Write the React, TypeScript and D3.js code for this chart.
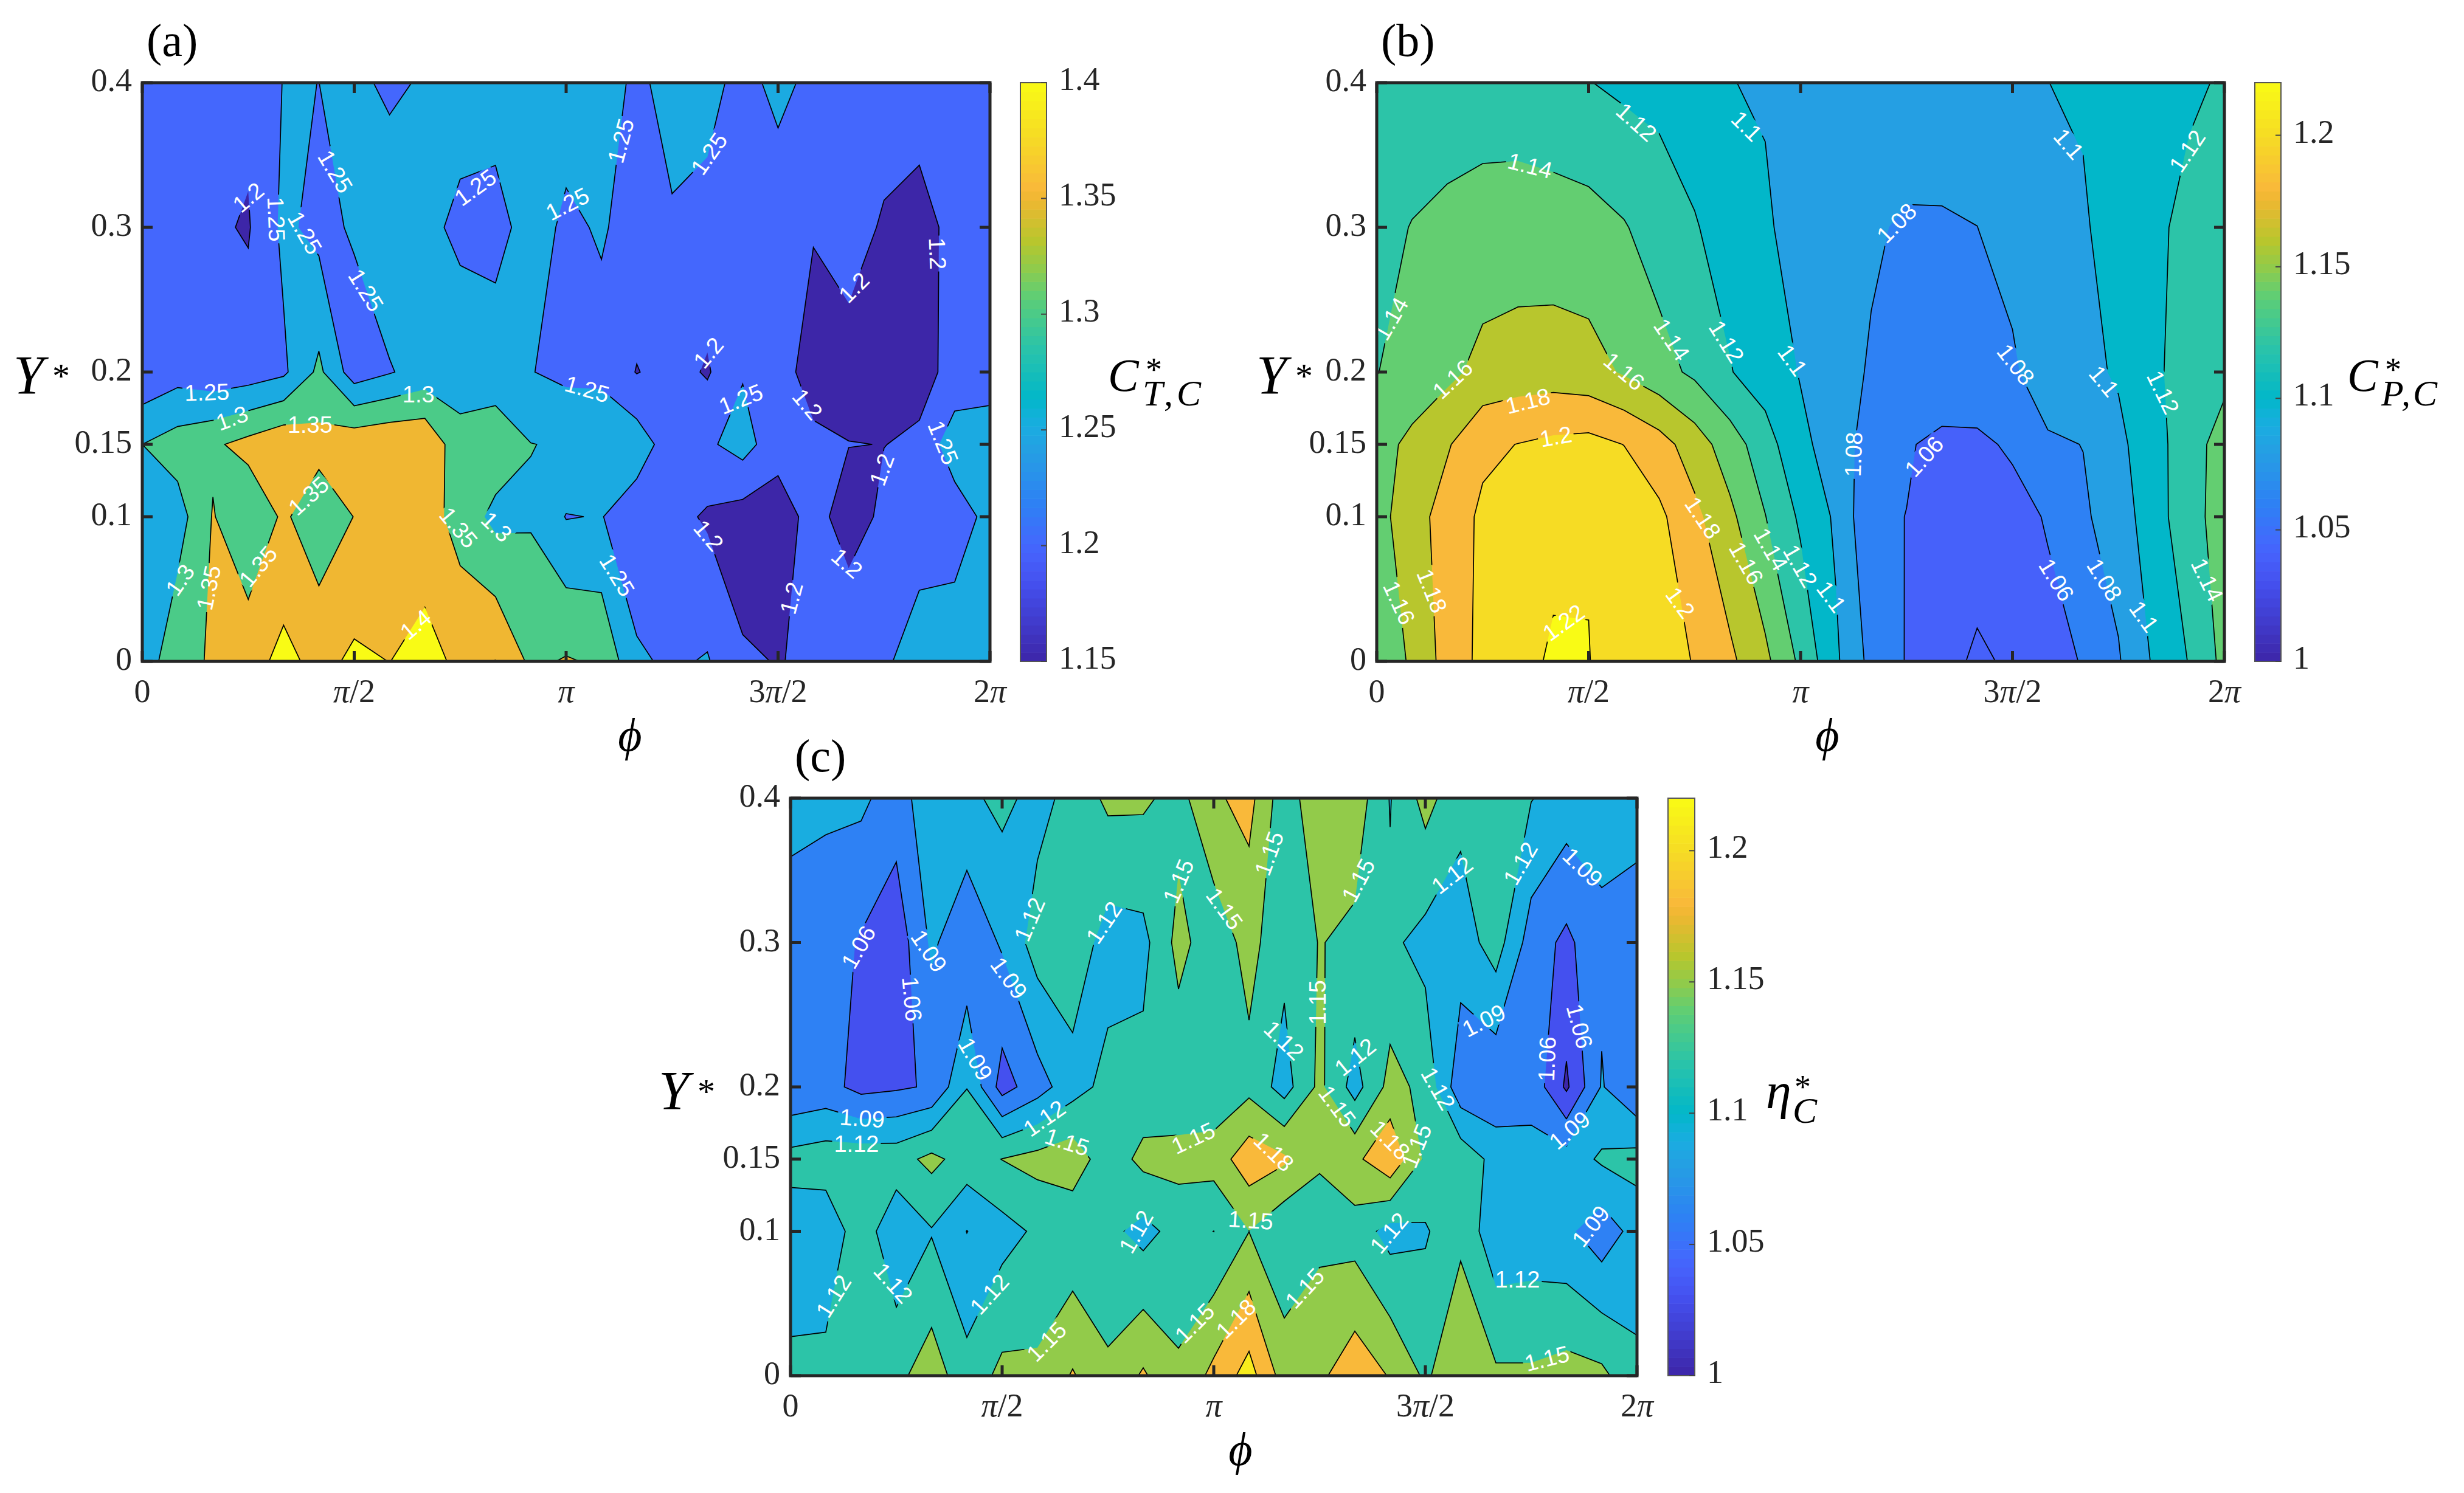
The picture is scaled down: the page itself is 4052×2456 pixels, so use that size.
import * as d3 from 'd3';

// grid: 25 phi columns (0..2pi), rows at these Y values, bottom row first
const rowY = [0, 0.1, 0.15, 0.2, 0.3, 0.4];
const colCount = 25;

const ctValues = [
  [1.27,1.335,1.355,1.38,1.414,1.385,1.409,1.3995,1.415,1.391,1.401,1.34,1.354,1.3434,1.2566,1.2426,1.254,1.205,1.1985,1.206,1.24,1.24,1.28,1.29,1.275],
  [1.26,1.278,1.353,1.31,1.358,1.318,1.351,1.37,1.375,1.329,1.287,1.295,1.248,1.252,1.219,1.218,1.193,1.178,1.175,1.218,1.178,1.2094,1.219,1.217,1.2694],
  [1.3,1.323,1.342,1.366,1.39,1.367,1.387,1.395,1.395,1.316,1.33,1.301,1.295,1.295,1.278,1.222,1.2418,1.27,1.219,1.205,1.201,1.1995,1.205,1.285,1.271],
  [1.209,1.23,1.216,1.224,1.241,1.311,1.224,1.2465,1.27,1.278,1.274,1.2516,1.238,1.236,1.198,1.219,1.195,1.246,1.21,1.19,1.18,1.185,1.19,1.209,1.232],
  [1.215,1.212,1.207,1.196,1.261,1.235,1.256,1.285,1.262,1.24,1.235,1.268,1.2425,1.254,1.234,1.24,1.232,1.225,1.215,1.2016,1.222,1.194,1.18,1.216,1.222],
  [1.22,1.22,1.22,1.212,1.2517,1.2499,1.262,1.24,1.256,1.27,1.27,1.26,1.27,1.295,1.231,1.283,1.269,1.231,1.266,1.235,1.226,1.226,1.2265,1.225,1.23],
];

const cpValues = [
  [1.156,1.1608,1.189,1.2047,1.213,1.2229,1.2204,1.2125,1.21,1.1988,1.184,1.1646,1.136,1.1032,1.0742,1.059,1.0465,1.037,1.0428,1.054,1.061,1.0783,1.1024,1.1209,1.1457],
  [1.153,1.171,1.189,1.2035,1.212,1.2138,1.219,1.217,1.204,1.185,1.1645,1.1405,1.1167,1.097,1.063,1.0598,1.052,1.05,1.0536,1.0615,1.0775,1.0884,1.113,1.13,1.152],
  [1.152,1.165,1.178,1.196,1.2004,1.2043,1.2063,1.1997,1.188,1.17,1.1496,1.1287,1.1038,1.0926,1.069,1.0615,1.056,1.0565,1.0625,1.0775,1.0803,1.0955,1.1122,1.1317,1.1483],
  [1.1395,1.147,1.155,1.166,1.1694,1.1704,1.1672,1.158,1.147,1.1362,1.121,1.11,1.099,1.0845,1.0789,1.0745,1.072,1.072,1.0775,1.09,1.0955,1.102,1.117,1.1273,1.135],
  [1.134,1.1407,1.1443,1.1479,1.1485,1.148,1.1476,1.1414,1.131,1.1213,1.112,1.1029,1.0913,1.089,1.0815,1.0785,1.0786,1.0799,1.086,1.092,1.098,1.108,1.116,1.1253,1.13],
  [1.125,1.128,1.13,1.13,1.13,1.127,1.1206,1.116,1.114,1.11,1.1005,1.098,1.095,1.092,1.09,1.088,1.088,1.09,1.094,1.0999,1.102,1.105,1.11,1.117,1.122],
];

const etaValues = [
  [1.1263,1.1297,1.135,1.142,1.166,1.131,1.158,1.156,1.1826,1.1554,1.184,1.1544,1.1885,1.2222,1.1666,1.174,1.199,1.178,1.145,1.175,1.155,1.1547,1.1615,1.157,1.127],
  [1.103,1.0975,1.1384,1.0956,1.118,1.0895,1.1087,1.125,1.127,1.1284,1.11,1.1313,1.1198,1.1497,1.125,1.142,1.1373,1.109,1.1166,1.1435,1.0985,1.102,1.0965,1.072,1.102],
  [1.131,1.137,1.139,1.138,1.158,1.1365,1.1505,1.16,1.168,1.132,1.1585,1.16,1.163,1.198,1.185,1.152,1.1726,1.205,1.144,1.14,1.11,1.098,1.104,1.1245,1.131],
  [1.063,1.07,1.051,1.056,1.063,1.1195,1.0476,1.077,1.108,1.129,1.13,1.13,1.13,1.1414,1.1075,1.157,1.108,1.16,1.142,1.07,1.065,1.081,1.025,1.0923,1.0605],
  [1.0827,1.075,1.057,1.041,1.0955,1.067,1.0937,1.134,1.14,1.107,1.111,1.1595,1.1324,1.16,1.129,1.1513,1.143,1.126,1.11,1.1043,1.134,1.076,1.053,1.083,1.08],
  [1.095,1.0951,1.0962,1.075,1.11,1.113,1.128,1.1094,1.1306,1.156,1.155,1.14,1.175,1.19,1.131,1.175,1.168,1.1185,1.1607,1.1292,1.126,1.1212,1.107,1.1014,1.098],
];

const ctLevels = [1.15, 1.2, 1.25, 1.3, 1.35, 1.4];
const cpLevels = [1.04, 1.06, 1.08, 1.1, 1.12, 1.14, 1.16, 1.18, 1.2, 1.22];
const etaLevels = [1, 1.03, 1.06, 1.09, 1.12, 1.15, 1.18, 1.21];

const ctBarTicks = [1.15, 1.2, 1.25, 1.3, 1.35, 1.4];
const etaBarTicks = [1, 1.05, 1.1, 1.15, 1.2];

const yTicks = [0, 0.1, 0.15, 0.2, 0.3, 0.4];
const xTickCols = [0, 6, 12, 18, 24];
const xTickLabels = [['0', ''], ['', 'π', '/2'], ['', 'π', ''], ['3', 'π', '/2'], ['2', 'π', '']];

// contour labels: text, phi column, Y, rotation
type Lab = [string, number, number, number];
const ctLabels: Lab[] = [
  ['1.2',3,.3207,-40],['1.25',3.79,.3057,88],['1.25',4.6,.2961,60],['1.25',5.46,.3385,59],['1.25',6.33,.2565,58],
  ['1.25',9.43,.3275,-36],['1.25',12.04,.3161,-27],['1.25',1.83,.1859,-2],['1.3',2.54,.1681,-20],['1.35',4.75,.1635,0],
  ['1.3',7.82,.1845,0],['1.25',12.59,.1881,16],['1.35',4.71,.1143,-42],['1.35',8.95,.0924,50],['1.3',10.03,.093,44],
  ['1.3',1.07,.0563,-55],['1.35',1.88,.0509,-78],['1.35',3.28,.0656,-50],['1.4',7.74,.0254,-40],
  ['1.25',13.55,.3598,-75],['1.25',16.05,.3508,-55],['1.2',20.15,.2584,-45],['1.2',22.51,.2819,88],['1.2',16.03,.2133,-50],
  ['1.25',16.95,.1813,-22],['1.2',18.83,.1777,50],['1.25',22.67,.1512,68],['1.2',20.94,.1326,-70],['1.2',16.03,.0869,50],
  ['1.2',19.95,.0678,41],['1.25',13.44,.0596,58],['1.2',18.38,.0437,-75],
];
const cpLabels: Lab[] = [
  ['1.12',7.35,.3727,42],['1.1',10.47,.3699,45],['1.14',4.34,.3426,14],['1.14',.41,.2368,-60],['1.16',2.15,.1949,-43],
  ['1.14',8.35,.2223,56],['1.12',9.9,.2209,58],['1.1',11.77,.2081,54],['1.16',7,.2004,40],['1.18',4.28,.1799,-14],
  ['1.2',5.07,.1553,-10],['1.18',9.23,.0992,56],['1.16',10.46,.0678,60],['1.14',11.16,.0774,60],['1.12',11.99,.0659,60],
  ['1.1',12.87,.0446,53],['1.2',8.59,.0405,54],['1.22',5.29,.0268,-36],['1.16',.63,.0405,65],['1.18',1.56,.0487,68],
  ['1.1',19.59,.3576,49],['1.12',22.95,.3527,-56],['1.08',14.72,.3029,-45],['1.08',18.09,.2051,52],['1.1',20.59,.1936,50],
  ['1.12',22.26,.1859,64],['1.08',13.5,.143,-88],['1.06',15.5,.1416,-48],['1.06',19.24,.0563,58],['1.08',20.6,.0563,58],
  ['1.1',21.72,.0309,54],['1.14',23.51,.0563,64],
];
const etaLabelList: Lab[] = [
  ['1.06',1.93,.2968,-60],['1.09',3.92,.2941,56],['1.06',3.44,.2609,85],['1.12',6.78,.316,-67],['1.12',8.89,.3138,-56],
  ['1.15',11,.3425,-67],['1.15',12.3,.3234,54],['1.09',6.19,.2754,54],['1.09',5.24,.2193,60],['1.09',2.03,.1782,4],
  ['1.12',1.87,.1604,0],['1.12',7.2,.1782,-35],['1.15',7.84,.1618,18],['1.15',11.42,.1645,-25],['1.12',9.8,.0997,-60],
  ['1.12',1.22,.055,-58],['1.12',2.91,.0641,48],['1.12',5.64,.0564,-48],['1.15',7.26,.0235,-45],['1.15',11.46,.0364,-45],
  ['1.18',12.63,.0394,-45],['1.15',13.05,.1076,4],['1.15',13.57,.3617,-70],['1.15',16.1,.3431,-62],['1.12',18.76,.3466,-38],
  ['1.12',20.7,.3548,-60],['1.09',22.46,.3521,44],['1.15',14.95,.2585,-90],['1.12',13.99,.2322,44],['1.12',16.01,.2207,-39],
  ['1.15',15.5,.1865,53],['1.18',13.7,.155,44],['1.18',17,.1632,45],['1.15',17.75,.1591,-68],['1.12',18.36,.1988,60],
  ['1.09',19.66,.2459,-27],['1.06',21.45,.2193,-88],['1.06',22.37,.242,75],['1.09',22.09,.17,-40],['1.12',16.97,.0988,-50],
  ['1.09',22.69,.1035,-52],['1.12',20.61,.0665,0],['1.15',14.58,.0605,-47],['1.15',21.45,.0118,-14],
];

// parula-like map
const mapStops: [number, string][] = [
  [0,'#3d26a8'],[.136,'#4450ef'],[.18,'#4660fa'],[.2,'#4467fd'],[.27,'#2e80f5'],[.364,'#259fe3'],[.409,'#19ade0'],
  [.4545,'#02b7c9'],[.545,'#2cc4a8'],[.6,'#4bcb88'],[.636,'#63ce71'],[.68,'#90cb4b'],[.727,'#b8c62d'],[.8,'#f0b732'],
  [.818,'#f9b93a'],[.909,'#f6dc24'],[1,'#f9fb15'],
];
const parula = d3.scaleLinear<string>().domain(mapStops.map(d => d[0])).range(mapStops.map(d => d[1])).interpolate(d3.interpolateRgb);

const inkColor = '#262626';
const serif = '"Liberation Serif", serif';
const sans = '"Liberation Sans", sans-serif';

// d3.contours settles saddle cells one fixed way. Doubling the grid puts the cell
// mean at the centre so they go the way the mean says, as in the original plot.
function doubled(grid: number[][]) {
  const out: number[] = [];
  for (let r = 0; r <= (grid.length - 1) * 2; r++) {
    for (let c = 0; c <= (colCount - 1) * 2; c++) {
      const r0 = Math.floor(r / 2), r1 = Math.ceil(r / 2), c0 = Math.floor(c / 2), c1 = Math.ceil(c / 2);
      out.push((grid[r0][c0] + grid[r0][c1] + grid[r1][c0] + grid[r1][c1]) / 4);
    }
  }
  return out;
}

// drop the vertices inside original cells, so segments run straight from grid line to grid line
function straighten(c: any, nx: number, ny: number) {
  const keep = (p: number[]) =>
    (p[0] - 0.5) % 2 === 0 || (p[1] - 0.5) % 2 === 0 || p[0] < 0.5 || p[0] > nx - 0.5 || p[1] < 0.5 || p[1] > ny - 0.5;
  const coordinates = c.coordinates.map((poly: number[][][]) => poly.map(ring => {
    const kept = ring.slice(0, -1).filter(keep);
    return kept.length > 2 ? [...kept, kept[0]] : [];
  }).filter(ring => ring.length > 0)).filter((poly: number[][][]) => poly.length > 0);
  return { ...c, coordinates };
}

function Panel({ id, grid, levels, labels, clim, barTicks, left, right, top, bottom, barLeft, barRight, xLabelX, yLabelX, tag }: {
  id: string, grid: number[][], levels: number[], labels: Lab[], clim: [number, number], barTicks: number[],
  left: number, right: number, top: number, bottom: number, barLeft: number, barRight: number, xLabelX: number, yLabelX: number, tag: string
}) {
  const x = d3.scaleLinear().domain([0, colCount - 1]).range([left, right]);
  const y = d3.scaleLinear().domain([0, 0.4]).range([bottom, top]);
  const rowToY = d3.scaleLinear().domain(d3.range(rowY.length)).range(rowY);
  const toT = d3.scaleLinear().domain(clim).range([0, 1]);
  const barY = d3.scaleLinear().domain(clim).range([bottom, top]);

  // d3 puts cell centres at i + 0.5; the grid is doubled
  const path = d3.geoPath(d3.geoTransform({
    point(px: number, py: number) {
      (this as any).stream.point(x((px - 0.5) / 2), y(rowToY((py - 0.5) / 2)));
    }
  }));
  const nx = colCount * 2 - 1, ny = rowY.length * 2 - 1;
  const contours = d3.contours().size([nx, ny]).thresholds(levels)(doubled(grid)).map(c => straighten(c, nx, ny));
  const barSteps = d3.range(64);
  const tickLen = 17;

  return (
    <g>
      <defs>
        <clipPath id={`clip-${id}`}><rect x={left} y={top} width={right - left} height={bottom - top} /></clipPath>
        <mask id={`gaps-${id}`} maskUnits="userSpaceOnUse" x={left} y={top} width={right - left} height={bottom - top}>
          <rect x={left} y={top} width={right - left} height={bottom - top} fill="white" />
          {labels.map((l, i) => {
            const w = (l[0].length === 3 ? 53 : 74) + 6;
            return <rect key={i} x={-w / 2} y={-17} width={w} height={34} fill="black"
              transform={`translate(${x(l[1])},${y(l[2])}) rotate(${l[3]})`} />;
          })}
        </mask>
      </defs>
      <g clipPath={`url(#clip-${id})`}>
        <rect x={left} y={top} width={right - left} height={bottom - top} fill={parula(toT(levels[0]))} />
        {contours.map((c: any, i: number) => (
          <path key={i} d={path(c) || ''} fill={parula(toT(c.value))} fillRule="evenodd" />
        ))}
        <g mask={`url(#gaps-${id})`}>
          {contours.map((c: any, i: number) => (
            <path key={i} d={path(c) || ''} fill="none" stroke="black" strokeWidth={1.7} />
          ))}
        </g>
      </g>
      {labels.map((l, i) => (
        <text key={i} textAnchor="middle" dy={13} fontFamily={sans} fontSize={38} fill="white"
          transform={`translate(${x(l[1])},${y(l[2])}) rotate(${l[3]})`}>{l[0]}</text>
      ))}

      {/* frame and ticks */}
      <rect x={left} y={top} width={right - left} height={bottom - top} fill="none" stroke={inkColor} strokeWidth={5} />
      {yTicks.map(t => (
        <g key={t}>
          <line x1={left} x2={left + tickLen} y1={y(t)} y2={y(t)} stroke={inkColor} strokeWidth={5} />
          <line x1={right} x2={right - tickLen} y1={y(t)} y2={y(t)} stroke={inkColor} strokeWidth={5} />
          <text x={left - 17} y={y(t) + 14} textAnchor="end" fontFamily={serif} fontSize={54} fill={inkColor}>{String(t)}</text>
        </g>
      ))}
      {xTickCols.map((c, i) => (
        <g key={c}>
          <line x1={x(c)} x2={x(c)} y1={bottom} y2={bottom - tickLen} stroke={inkColor} strokeWidth={5} />
          <line x1={x(c)} x2={x(c)} y1={top} y2={top + tickLen} stroke={inkColor} strokeWidth={5} />
          <text x={x(c)} y={bottom + 67} textAnchor="middle" fontFamily={serif} fontSize={54} fill={inkColor}>
            {xTickLabels[i][0]}<tspan fontStyle="italic">{xTickLabels[i][1]}</tspan>{xTickLabels[i][2]}
          </text>
        </g>
      ))}
      <text x={xLabelX} y={bottom + 147} textAnchor="middle" fontFamily={serif} fontStyle="italic" fontSize={76} fill="black">ϕ</text>
      <text x={yLabelX} y={top + 512} fontFamily={serif} fontStyle="italic" fontSize={90} fill="black">Y</text>
      <text x={yLabelX + 64} y={top + 502} fontFamily={serif} fontSize={58} fill="black">*</text>
      <text x={left + 7} y={top - 44} fontFamily={serif} fontSize={76} fill="black">{tag}</text>

      {/* colorbar */}
      {barSteps.map(i => (
        <rect key={i} x={barLeft} width={barRight - barLeft}
          y={top + (bottom - top) * (63 - i) / 64} height={(bottom - top) / 64 + 0.6}
          fill={parula((i + 0.5) / 64)} />
      ))}
      <rect x={barLeft} y={top} width={barRight - barLeft} height={bottom - top} fill="none" stroke="#555" strokeWidth={2} />
      {barTicks.map(t => (
        <g key={t}>
          <line x1={barRight} x2={barRight - 9} y1={barY(t)} y2={barY(t)} stroke="#444" strokeWidth={2} />
          <text x={barRight + 20} y={barY(t) + 12} fontFamily={serif} fontSize={54} fill={inkColor}>{String(t)}</text>
        </g>
      ))}
    </g>
  );
}

function Mathy({ x, y, sym, sub, sizeSym, starX, subX, spacing }: {
  x: number, y: number, sym: string, sub: string, sizeSym: number, starX: number, subX: number, spacing: number
}) {
  return (
    <g fontFamily={serif} fill="black">
      <text x={x} y={y} fontStyle="italic" fontSize={sizeSym}>{sym}</text>
      <text x={x + starX} y={y - 17} fontSize={54}>*</text>
      <text x={x + subX} y={y + 24} fontStyle="italic" fontSize={60} letterSpacing={spacing}>{sub}</text>
    </g>
  );
}

export default function App() {
  return (
    <svg width={4052} height={2456} viewBox="0 0 4052 2456" style={{ position: 'absolute', left: 0, top: 0, background: 'white' }}>
      <Panel id="a" tag="(a)" grid={ctValues} levels={ctLevels} labels={ctLabels} clim={[1.15, 1.4]} barTicks={ctBarTicks}
        left={234} right={1628} top={136} bottom={1088} barLeft={1678} barRight={1721} xLabelX={1036} yLabelX={22} />
      <Mathy x={1822} y={643} sym="C" sub="T,C" sizeSym={76} starX={62} subX={57} spacing={6} />
      <Panel id="b" tag="(b)" grid={cpValues} levels={cpLevels} labels={cpLabels} clim={[1, 1.22]} barTicks={etaBarTicks}
        left={2264} right={3658} top={136} bottom={1088} barLeft={3708} barRight={3751} xLabelX={3005} yLabelX={2066} />
      <Mathy x={3860} y={643} sym="C" sub="P,C" sizeSym={76} starX={62} subX={56} spacing={4} />
      <Panel id="c" tag="(c)" grid={etaValues} levels={etaLevels} labels={etaLabelList} clim={[1, 1.22]} barTicks={etaBarTicks}
        left={1300} right={2692} top={1313} bottom={2263} barLeft={2743} barRight={2787} xLabelX={2040} yLabelX={1083} />
      <Mathy x={2904} y={1823} sym="η" sub="C" sizeSym={84} starX={47} subX={44} spacing={0} />
    </svg>
  );
}
